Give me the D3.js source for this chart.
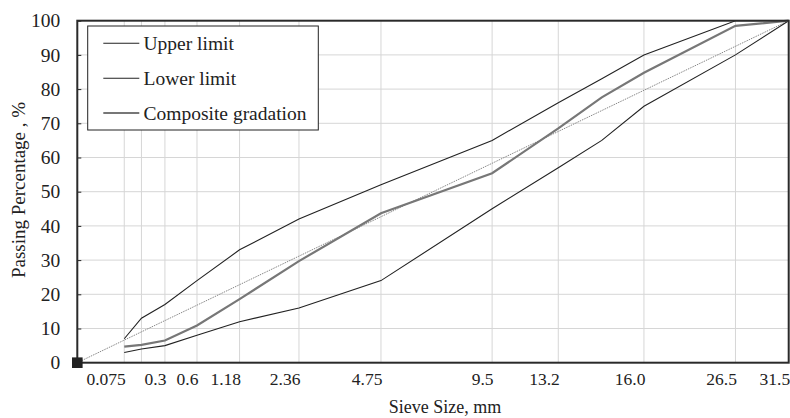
<!DOCTYPE html>
<html>
<head>
<meta charset="utf-8">
<script src="https://cdn.jsdelivr.net/npm/d3@7"></script>
<style>
  html, body { margin: 0; padding: 0; background: #fff; }
  svg { display: block; font-family: "Liberation Serif", "Times New Roman", serif; }
</style>
</head>
<body>
<svg id="chart" width="790" height="418"></svg>
<script>
// ---- Data ----
const sieveSizes = [0.075, 0.15, 0.3, 0.6, 1.18, 2.36, 4.75, 9.5, 13.2, 16, 19, 26.5, 31.5];
const upperLimit = [7, 13, 17, 24, 33, 42, 52, 65, 76, 83, 90, 100, 100];
const lowerLimit = [3, 4, 5, 8, 12, 16, 24, 45, 57, 65, 75, 90, 100];
const compositeGradation = [4.7, 5.2, 6.5, 10.9, 18.6, 29.7, 43.7, 55.4, 68.5, 77.6, 84.8, 98.5, 100];
const maxDensitySizes = [0, 31.5];
const maxDensityValues = [0, 100];
const gridSieves = [0.075, 0.15, 0.3, 0.6, 1.18, 2.36, 4.75, 9.5, 13.2, 19, 26.5];
const tickSieves = [0.075, 0.3, 0.6, 1.18, 2.36, 4.75, 9.5, 13.2, 19, 26.5, 31.5];
const tickLabels = ["0.075", "0.3", "0.6", "1.18", "2.36", "4.75", "9.5", "13.2", "16.0", "26.5", "31.5"];
const yTicks = [0, 10, 20, 30, 40, 50, 60, 70, 80, 90, 100];
const seriesNames = ["Upper limit", "Lower limit", "Composite gradation"];

(function () {
// ---- Layout ----
const svg = d3.select("#chart");
const pLeft = 77.3, pRight = 788.7, pTop = 20.7, pBottom = 362.7;

const x = d3.scalePow().exponent(0.45).domain([0, 31.5]).range([pLeft, pRight]);
const y = d3.scaleLinear().domain([0, 100]).range([pBottom, pTop]);

// Grid
const grid = svg.append("g");
grid.selectAll("line.v").data(gridSieves).join("line")
  .attr("class", "v")
  .attr("x1", d => x(d)).attr("x2", d => x(d))
  .attr("y1", pTop).attr("y2", pBottom)
  .attr("stroke", "#d6d6d6").attr("stroke-width", 1);
grid.selectAll("line.h").data(yTicks.filter(d => d > 0 && d < 100)).join("line")
  .attr("class", "h")
  .attr("x1", pLeft).attr("x2", pRight)
  .attr("y1", d => y(d)).attr("y2", d => y(d))
  .attr("stroke", "#d6d6d6").attr("stroke-width", 1);

// Y axis
const yAxis = svg.append("g")
  .attr("transform", `translate(${pLeft},0)`)
  .call(d3.axisLeft(y).tickValues(yTicks).tickSizeInner(-4).tickSizeOuter(0).tickPadding(17));
yAxis.select(".domain").remove();
yAxis.selectAll(".tick line").attr("stroke", "#222").attr("stroke-width", 1);
yAxis.selectAll(".tick text")
  .attr("fill", "#222")
  .style("font-family", '"Liberation Serif", "Times New Roman", serif')
  .style("font-size", "19.5px");

// X axis labels
const xAxis = svg.append("g")
  .attr("transform", `translate(0,${pBottom})`)
  .call(d3.axisBottom(x).tickValues(tickSieves)
    .tickFormat((d, i) => tickLabels[i]).tickSize(0).tickPadding(10));
xAxis.select(".domain").remove();
xAxis.selectAll(".tick text")
  .attr("text-anchor", "end")
  .attr("dy", "0.71em")
  .attr("x", 1)
  .attr("fill", "#222")
  .style("font-family", '"Liberation Serif", "Times New Roman", serif')
  .style("font-size", "17.5px");

// Lines
const line = d3.line().x(d => x(d[0])).y(d => y(d[1]));
const zipS = vals => sieveSizes.map((s, i) => [s, vals[i]]);

svg.append("path")
  .datum(maxDensitySizes.map((s, i) => [s, maxDensityValues[i]]))
  .attr("d", line).attr("fill", "none")
  .attr("stroke", "#888").attr("stroke-width", 1).attr("stroke-dasharray", "1.5,1");

svg.append("path").datum(zipS(upperLimit)).attr("d", line)
  .attr("fill", "none").attr("stroke", "#222").attr("stroke-width", 1.1);
svg.append("path").datum(zipS(lowerLimit)).attr("d", line)
  .attr("fill", "none").attr("stroke", "#222").attr("stroke-width", 1.1);
svg.append("path").datum(zipS(compositeGradation)).attr("d", line)
  .attr("fill", "none").attr("stroke", "#777").attr("stroke-width", 2.2);

// Frame
svg.append("rect")
  .attr("x", pLeft).attr("y", pTop)
  .attr("width", pRight - pLeft).attr("height", pBottom - pTop)
  .attr("fill", "none").attr("stroke", "#2a2a2a").attr("stroke-width", 2);

// Origin marker
svg.append("rect")
  .attr("x", x(0) - 5.3).attr("y", y(0) - 5.3)
  .attr("width", 10.6).attr("height", 10.6)
  .attr("fill", "#222");

// Axis titles
svg.append("text")
  .attr("x", 445).attr("y", 413)
  .attr("text-anchor", "middle")
  .attr("fill", "#222")
  .style("font-size", "18px")
  .text("Sieve Size, mm");

svg.append("text")
  .attr("transform", `translate(25,190) rotate(-90)`)
  .attr("text-anchor", "middle")
  .attr("fill", "#222")
  .style("font-size", "19px")
  .text("Passing Percentage , %");

// Legend
const legend = svg.append("g");
legend.append("rect")
  .attr("x", 87.7).attr("y", 26).attr("width", 230.6).attr("height", 104)
  .attr("fill", "#fff").attr("stroke", "#222").attr("stroke-width", 1);
const legendStyles = [
  { color: "#222", width: 1.1 },
  { color: "#222", width: 1.1 },
  { color: "#777", width: 2.2 }
];
const rowY = [43.3, 78.3, 113];
seriesNames.forEach((name, i) => {
  legend.append("line")
    .attr("x1", 103.3).attr("x2", 139.3)
    .attr("y1", rowY[i]).attr("y2", rowY[i])
    .attr("stroke", legendStyles[i].color).attr("stroke-width", legendStyles[i].width);
  legend.append("text")
    .attr("x", 143.5).attr("y", rowY[i] + 7)
    .attr("fill", "#222")
    .style("font-size", "19.5px")
    .text(name);
});
})();
</script>
</body>
</html>
